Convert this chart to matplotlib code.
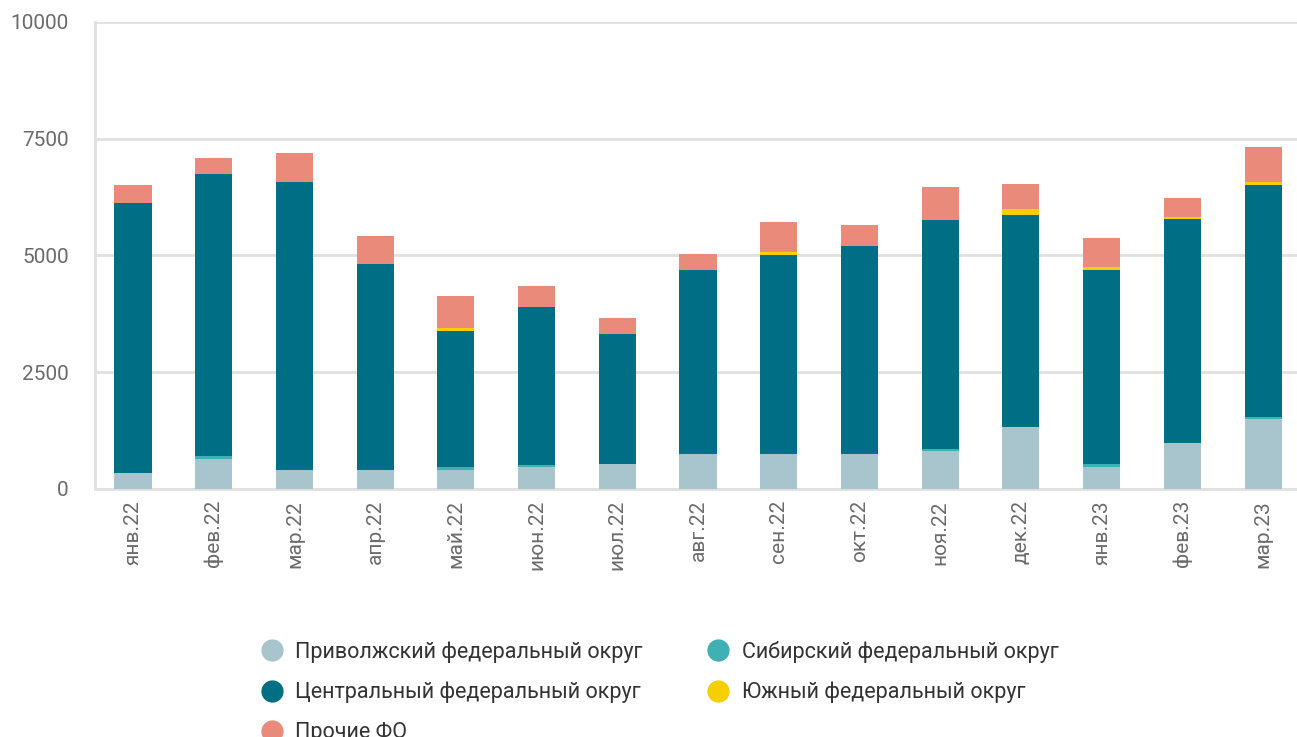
import matplotlib.pyplot as plt
import numpy as np

plt.rcParams['font.family'] = ['Roboto', 'DejaVu Sans']

months = ['янв.22', 'фев.22', 'мар.22', 'апр.22', 'май.22', 'июн.22', 'июл.22',
          'авг.22', 'сен.22', 'окт.22', 'ноя.22', 'дек.22', 'янв.23', 'фев.23', 'мар.23']

privolzh = [350, 640, 405, 405, 405, 470, 535, 755, 755, 755, 810, 1330, 470, 985, 1495]
sibir = [0, 70, 0, 0, 65, 43, 0, 0, 0, 0, 45, 0, 64, 0, 50]
central = [5770, 6034, 6170, 4403, 2906, 3376, 2790, 3940, 4266, 4452, 4914, 4546, 4145, 4786, 4971]
yuzh = [0, 0, 0, 0, 64, 0, 0, 0, 64, 0, 0, 128, 65, 64, 58]
other = [400, 341, 626, 620, 690, 463, 342, 342, 641, 455, 691, 520, 634, 400, 739]

names = ['Приволжский федеральный округ', 'Сибирский федеральный округ',
         'Центральный федеральный округ', 'Южный федеральный округ', 'Прочие ФО']
colors = ['#a8c4cc', '#3fb0b3', '#006e84', '#f5cf00', '#ea8a7b']
series = [privolzh, sibir, central, yuzh, other]

fig = plt.figure(figsize=(12.97, 7.37), dpi=100)
ax = fig.add_axes([95/1297, 1 - 489/737, 1 - 95/1297, (489 - 22)/737])

x = np.arange(len(months))
bottom = np.zeros(len(months))
handles = []
for vals, name, c in zip(series, names, colors):
    vals = np.array(vals, dtype=float)
    ax.bar(x, vals, bottom=bottom, width=0.46, color=c, zorder=3)
    bottom += vals
    h, = ax.plot([], [], 'o', color=c, markersize=15, label=name)
    handles.append(h)

ax.set_ylim(0, 10000)
ax.set_xlim(-0.47, 14.42)
ax.set_yticks([0, 2500, 5000, 7500, 10000])
ax.yaxis.grid(True, color='#e0e0e0', linewidth=2, zorder=0)
ax.set_xticks(x)
ax.set_xticklabels(months, rotation=90)
ax.tick_params(axis='both', length=0, labelsize=15, labelcolor='#6b6b6b')
ax.tick_params(axis='y', pad=19)
ax.tick_params(axis='x', pad=8)
for s in ['top', 'right']:
    ax.spines[s].set_visible(False)
for s in ['left', 'bottom']:
    ax.spines[s].set_color('#e0e0e0')
    ax.spines[s].set_linewidth(2)

# legend: first column Priv/Central/Other, second Sib/Yuzh
order = [0, 2, 4, 1, 3]
fig.legend([handles[i] for i in order], [names[i] for i in order],
           ncol=2, loc='upper left', bbox_to_anchor=(250/1297, 1 - 630/737),
           frameon=False, fontsize=15.5, labelcolor='#333333',
           handletextpad=0.6, columnspacing=3.0, labelspacing=0.88,
           handlelength=1.0, borderpad=0)

fig.savefig('out.png', dpi=100)
